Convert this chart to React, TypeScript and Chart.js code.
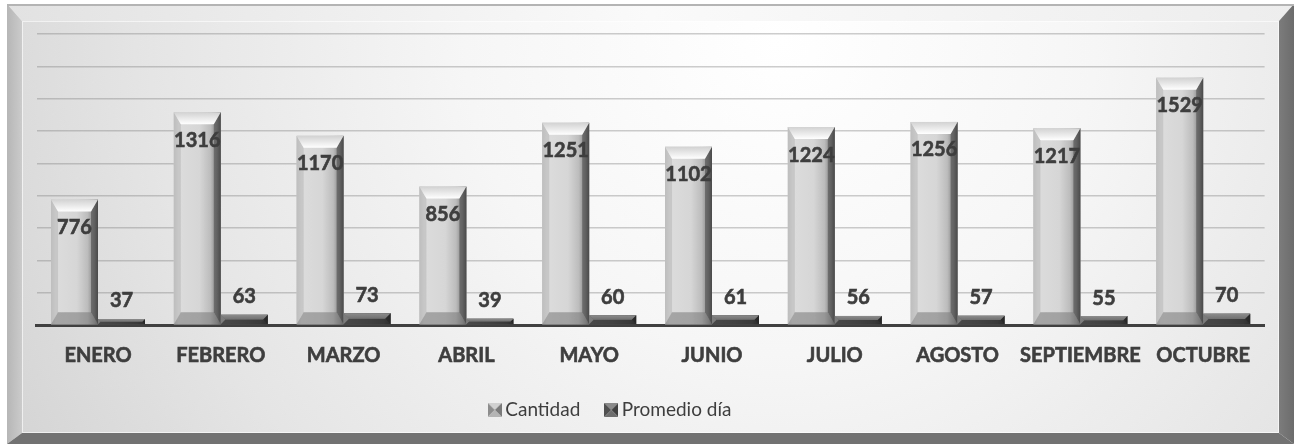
import React, { useEffect, useRef } from 'react';
import { Chart, registerables } from 'chart.js';

Chart.register(...registerables);

// ---- data ----
const categories = ['ENERO', 'FEBRERO', 'MARZO', 'ABRIL', 'MAYO', 'JUNIO', 'JULIO', 'AGOSTO', 'SEPTIEMBRE', 'OCTUBRE'];
const cantidad = [776, 1316, 1170, 856, 1251, 1102, 1224, 1256, 1217, 1529];
const promedioDia = [37, 63, 73, 39, 60, 61, 56, 57, 55, 70];
const seriesNames = ['Cantidad', 'Promedio día'];
const yMin = 0;
const yMax = 1800;
const yStep = 200;

const FONT = 'Lato, "Open Sans", "DejaVu Sans", sans-serif';
const TEXT = '#3e3e3e';

const W = 1298;
const H = 444;

function poly(ctx: CanvasRenderingContext2D, pts: number[][], fill: string | CanvasGradient) {
  ctx.beginPath();
  ctx.moveTo(pts[0][0], pts[0][1]);
  for (let i = 1; i < pts.length; i++) ctx.lineTo(pts[i][0], pts[i][1]);
  ctx.closePath();
  ctx.fillStyle = fill;
  ctx.fill();
}

const framePlugin = {
  id: 'frameBg',
  beforeDraw(chart: any) {
    const ctx: CanvasRenderingContext2D = chart.ctx;
    const L = 7, T = 4, R = 1294, B = 444;
    const il = 22, it = 21, ir = 1279, ib = 433;
    ctx.save();
    ctx.fillStyle = '#ffffff';
    ctx.fillRect(0, 0, W, H);
    const g = ctx.createRadialGradient(780, 40, 0, 780, 40, 900);
    g.addColorStop(0, '#ffffff');
    g.addColorStop(0.35, '#f6f6f6');
    g.addColorStop(0.7, '#e5e5e5');
    g.addColorStop(1, '#d2d2d2');
    ctx.fillStyle = g;
    ctx.fillRect(il, it, ir - il, ib - it);
    const gt = ctx.createLinearGradient(L, 0, R, 0);
    gt.addColorStop(0, '#e2e2e2');
    gt.addColorStop(0.5, '#fafafa');
    gt.addColorStop(1, '#ededed');
    poly(ctx, [[L, T], [R, T], [ir, it], [il, it]], gt);
    const gl = ctx.createLinearGradient(L, 0, il, 0);
    gl.addColorStop(0, '#b6b6b6');
    gl.addColorStop(1, '#cbcbcb');
    poly(ctx, [[L, T], [il, it], [il, ib], [L, B]], gl);
    const gr = ctx.createLinearGradient(ir, 0, R, 0);
    gr.addColorStop(0, '#7c7c7c');
    gr.addColorStop(1, '#6c6c6c');
    poly(ctx, [[R, T], [R, B], [ir, ib], [ir, it]], gr);
    poly(ctx, [[L, B], [il, ib], [ir, ib], [R, B]], '#727272');
    ctx.fillStyle = '#b4b4b4';
    ctx.fillRect(L, T, R - L, 2);
    ctx.strokeStyle = 'rgba(255,255,255,0.6)';
    ctx.lineWidth = 1;
    ctx.strokeRect(il + 0.5, it + 0.5, ir - il - 1, ib - it - 1);
    ctx.restore();
  },
};

function drawBevelBar(ctx: CanvasRenderingContext2D, x0: number, x1: number, top: number, bot: number, dark: boolean) {
  const h = bot - top;
  if (h <= 0) return;
  const w = x1 - x0;
  const bt = Math.min(12, h / 2);
  const b = Math.min(7, w / 4, bt);
  const gf = ctx.createLinearGradient(x0, 0, x1, 0);
  if (!dark) {
    gf.addColorStop(0, '#c6c6c6');
    gf.addColorStop(0.1, '#dcdcdc');
    gf.addColorStop(0.55, '#d6d6d6');
    gf.addColorStop(0.78, '#bcbcbc');
    gf.addColorStop(0.92, '#848484');
    gf.addColorStop(1, '#505050');
  } else {
    gf.addColorStop(0, '#6a6a6a');
    gf.addColorStop(0.5, '#5c5c5c');
    gf.addColorStop(0.85, '#4c4c4c');
    gf.addColorStop(1, '#333333');
  }
  ctx.fillStyle = gf;
  ctx.fillRect(x0, top, w, h);
  poly(ctx, [[x0, top], [x0 + b, top + bt], [x0 + b, bot - bt], [x0, bot]], dark ? 'rgba(140,140,140,0.55)' : 'rgba(185,185,185,0.6)');
  poly(ctx, [[x1, top], [x1, bot], [x1 - b, bot - bt], [x1 - b, top + bt]], dark ? 'rgba(30,30,30,0.6)' : 'rgba(70,70,70,0.55)');
  poly(ctx, [[x0, bot], [x0 + b, bot - bt], [x1 - b, bot - bt], [x1, bot]], dark ? 'rgba(40,40,40,0.5)' : 'rgba(120,120,120,0.55)');
  const gt = ctx.createLinearGradient(0, top, 0, top + bt);
  if (!dark) {
    gt.addColorStop(0, '#d2d2d2');
    gt.addColorStop(1, '#ffffff');
  } else {
    gt.addColorStop(0, '#8c8c8c');
    gt.addColorStop(1, '#707070');
  }
  poly(ctx, [[x0, top], [x1, top], [x1 - b, top + bt], [x0 + b, top + bt]], gt);
}

const bevelPlugin = {
  id: 'bevelBars',
  afterDatasetsDraw(chart: any) {
    const ctx: CanvasRenderingContext2D = chart.ctx;
    ctx.save();
    chart.data.datasets.forEach((ds: any, di: number) => {
      const meta = chart.getDatasetMeta(di);
      meta.data.forEach((el: any) => {
        const p = el.getProps(['x', 'y', 'base', 'width'], true);
        drawBevelBar(ctx, p.x - p.width / 2, p.x + p.width / 2, p.y, p.base, di === 1);
      });
    });
    ctx.fillStyle = TEXT;
    ctx.strokeStyle = TEXT;
    ctx.lineWidth = 0.6;
    ctx.font = `bold 20px ${FONT}`;
    ctx.textAlign = 'center';
    ctx.textBaseline = 'middle';
    chart.data.datasets.forEach((ds: any, di: number) => {
      const meta = chart.getDatasetMeta(di);
      meta.data.forEach((el: any, i: number) => {
        const p = el.getProps(['x', 'y', 'base', 'width'], true);
        const v = ds.data[i];
        const ty = di === 0 ? p.y + 28 : p.y - 18;
        ctx.fillText(String(v), p.x, ty);
        ctx.strokeText(String(v), p.x, ty);
      });
    });
    ctx.restore();
  },
};

const shiftLegendPlugin = {
  id: 'shiftLegend',
  afterLayout(chart: any) {
    const lg = chart.legend;
    if (lg) {
      lg.left -= 38;
      lg.right -= 38;
    }
  },
};

function makeIcon(top: string, left: string, right: string, bottom: string) {
  const c = document.createElement('canvas');
  c.width = 14;
  c.height = 14;
  const g = c.getContext('2d') as CanvasRenderingContext2D;
  poly(g, [[0, 0], [14, 0], [7, 7]], top);
  poly(g, [[0, 0], [7, 7], [0, 14]], left);
  poly(g, [[14, 0], [14, 14], [7, 7]], right);
  poly(g, [[0, 14], [7, 7], [14, 14]], bottom);
  return c;
}

export default function App() {
  const ref = useRef<HTMLCanvasElement | null>(null);

  useEffect(() => {
    document.body.style.margin = '0';
    const canvas = ref.current;
    if (!canvas) return;
    const iconA = makeIcon('#d0d0d0', '#8c8c8c', '#7a7a7a', '#b4b4b4');
    const iconB = makeIcon('#8a8a8a', '#505050', '#404040', '#6e6e6e');
    const chart = new Chart(canvas, {
      type: 'bar',
      data: {
        labels: categories,
        datasets: [
          {
            label: seriesNames[0],
            data: cantidad,
            backgroundColor: '#d0d0d0',
            borderWidth: 0,
            pointStyle: iconA as any,
            categoryPercentage: 0.765,
            barPercentage: 1,
          },
          {
            label: seriesNames[1],
            data: promedioDia,
            backgroundColor: '#555555',
            borderWidth: 0,
            pointStyle: iconB as any,
            categoryPercentage: 0.765,
            barPercentage: 1,
          },
        ],
      },
      options: {
        responsive: false,
        animation: false,
        devicePixelRatio: 1,
        layout: { padding: { left: 36.6, right: 33.4, top: 34, bottom: 14.5 } },
        plugins: {
          legend: {
            position: 'bottom',
            labels: {
              usePointStyle: true,
              pointStyleWidth: 2,
              boxWidth: 14,
              boxHeight: 14,
              padding: 30,
              color: TEXT,
              font: { family: FONT, size: 19 },
            },
          },
          tooltip: { enabled: false },
          title: { display: false },
        },
        scales: {
          x: {
            z: 1,
            grid: { display: false, drawTicks: false },
            border: { display: true, color: '#404040', width: 3 },
            ticks: {
              color: TEXT,
              padding: 19,
              maxRotation: 0,
              autoSkip: false,
              textStrokeColor: TEXT,
              textStrokeWidth: 0.6,
              font: { family: FONT, size: 20, weight: 'bold' },
            },
            afterFit: (s: any) => {
              s.height = 45.5;
            },
          },
          y: {
            min: yMin,
            max: yMax,
            ticks: { display: false, stepSize: yStep },
            grid: { color: 'rgba(130,130,130,0.4)', lineWidth: 1.5, drawTicks: false },
            border: { display: false },
          },
        },
      },
      plugins: [framePlugin, bevelPlugin, shiftLegendPlugin],
    } as any);
    return () => chart.destroy();
  }, []);

  return <canvas ref={ref} width={W} height={H} style={{ display: 'block', width: W, height: H }} />;
}
